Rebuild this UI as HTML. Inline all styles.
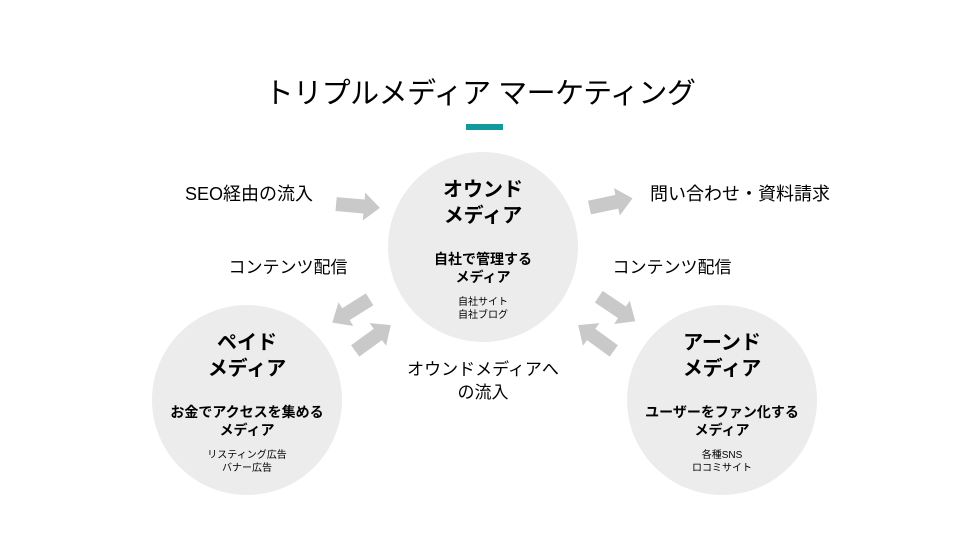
<!DOCTYPE html>
<html><head><meta charset="utf-8"><style>
body{margin:0;width:960px;height:540px;background:#fff;overflow:hidden;position:relative;font-family:"Liberation Sans","Noto Sans CJK JP",sans-serif;color:#000}
.t{position:absolute;white-space:nowrap;text-align:center}
.c{position:absolute;width:190px;height:190px;border-radius:50%;background:#ececec}
</style></head><body>
<div class="t" style="left:0;width:960px;top:75px;font-size:29px;line-height:38px;letter-spacing:-0.5px">トリプルメディア マーケティング</div>
<div style="position:absolute;left:466px;top:124px;width:37px;height:6px;background:#12999e"></div>
<div class="c" style="left:388px;top:152px"></div>
<div class="c" style="left:152px;top:305px"></div>
<div class="c" style="left:627px;top:305px"></div>
<svg width="960" height="540" style="position:absolute;left:0;top:0">
<defs><polygon id="a" points="-22,-7 6,-7 6,-14 22,0 6,14 6,7 -22,7" fill="#c9c9c9"/></defs>
<use href="#a" transform="translate(358,206) rotate(5)"/>
<use href="#a" transform="translate(611,203) rotate(-12)"/>
<use href="#a" transform="translate(351,311) rotate(148)"/>
<use href="#a" transform="translate(373,338) rotate(-36)"/>
<use href="#a" transform="translate(617,309) rotate(34)"/>
<use href="#a" transform="translate(596,338) rotate(-144)"/>
</svg>
<div class="t" style="left:388px;width:190px;top:177px;font-size:20px;line-height:26px;font-weight:bold">オウンド<br>メディア</div>
<div class="t" style="left:388px;width:190px;top:250px;font-size:14px;line-height:18px;font-weight:bold">自社で管理する<br>メディア</div>
<div class="t" style="left:388px;width:190px;top:296px;font-size:10px;line-height:13px">自社サイト<br>自社ブログ</div>
<div class="t" style="left:152px;width:190px;top:330px;font-size:20px;line-height:26px;font-weight:bold">ペイド<br>メディア</div>
<div class="t" style="left:152px;width:190px;top:403px;font-size:14px;line-height:18px;font-weight:bold">お金でアクセスを集める<br>メディア</div>
<div class="t" style="left:152px;width:190px;top:449px;font-size:10px;line-height:13px">リスティング広告<br>バナー広告</div>
<div class="t" style="left:627px;width:190px;top:330px;font-size:20px;line-height:26px;font-weight:bold">アーンド<br>メディア</div>
<div class="t" style="left:627px;width:190px;top:403px;font-size:14px;line-height:18px;font-weight:bold">ユーザーをファン化する<br>メディア</div>
<div class="t" style="left:627px;width:190px;top:449px;font-size:10px;line-height:13px">各種SNS<br>ロコミサイト</div>
<div class="t" style="left:169px;width:160px;top:183px;font-size:18px;line-height:23px">SEO経由の流入</div>
<div class="t" style="left:640px;width:200px;top:183px;font-size:18px;line-height:23px">問い合わせ・資料請求</div>
<div class="t" style="left:208px;width:160px;top:257px;font-size:17px;line-height:22px">コンテンツ配信</div>
<div class="t" style="left:592px;width:160px;top:257px;font-size:17px;line-height:22px">コンテンツ配信</div>
<div class="t" style="left:383px;width:200px;top:358px;font-size:17px;line-height:23px">オウンドメディアへ<br>の流入</div>
</body></html>
